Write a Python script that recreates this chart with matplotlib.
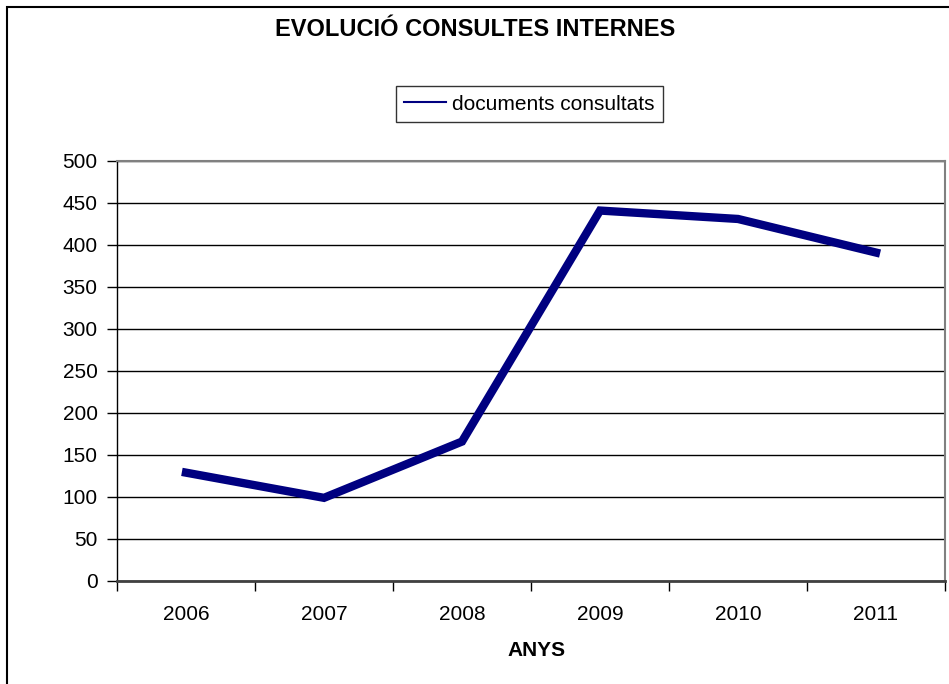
import matplotlib.pyplot as plt
from matplotlib.patches import Rectangle

plt.rcParams['font.family'] = ['Liberation Sans', 'DejaVu Sans']

years = ['2006', '2007', '2008', '2009', '2010', '2011']
documents = [129, 99, 166, 441, 431, 391]
yticks = [0, 50, 100, 150, 200, 250, 300, 350, 400, 450, 500]

fig = plt.figure(figsize=(9.49, 6.84), dpi=100)
ax = fig.add_axes([117 / 949, 1 - 581 / 684, 828 / 949, 420 / 684])

# outer chart border (cut off at right and bottom like the original)
fig.patches.append(Rectangle((7 / 949, -0.1), 1.2, 1 - 7 / 684 + 0.1,
                             transform=fig.transFigure, fill=False,
                             edgecolor='black', linewidth=1.5))

x = list(range(len(years)))
ax.plot(x, documents, color='#000080', linewidth=6,
        label='documents consultats', solid_joinstyle='miter')

ax.set_xlim(-0.5, len(years) - 0.5)
ax.set_ylim(0, 500)
ax.set_yticks(yticks)
ax.yaxis.grid(True, color='black', linewidth=1)
ax.set_axisbelow(True)

ax.set_xticks(x)
ax.set_xticklabels(years)
ax.set_xticks([i - 0.5 for i in range(len(years) + 1)], minor=True)
ax.tick_params(axis='x', which='major', length=0, pad=17, labelsize=15)
ax.tick_params(axis='x', which='minor', length=7, width=1, direction='out')
ax.tick_params(axis='y', length=7, width=1, direction='out', labelsize=15, pad=7)

ax.spines['left'].set_color('black')
ax.spines['left'].set_linewidth(1)
ax.spines['bottom'].set_color('#404040')
ax.spines['bottom'].set_linewidth(2)
ax.spines['top'].set_color('#808080')
ax.spines['top'].set_linewidth(1.5)
ax.spines['right'].set_color('#808080')
ax.spines['right'].set_linewidth(1.5)

fig.text(475 / 949, 1 - 29 / 684, 'EVOLUCIÓ CONSULTES INTERNES',
         ha='center', va='center', fontsize=17, fontweight='bold')
fig.text(537 / 949, 1 - 650 / 684, 'ANYS', ha='center', va='center',
         fontsize=15, fontweight='bold')

handles, labels = ax.get_legend_handles_labels()
handles[0] = plt.Line2D([], [], color='#000080', linewidth=1.5)
leg = fig.legend(handles, labels, loc='center',
                 bbox_to_anchor=(529.5 / 949, 1 - 104 / 684),
                 fontsize=15, frameon=True, fancybox=False,
                 edgecolor='black', handlelength=2.0, handletextpad=0.3,
                 borderpad=0.4, borderaxespad=0)
leg.get_frame().set_linewidth(1)

fig.savefig('out.png', dpi=100)
